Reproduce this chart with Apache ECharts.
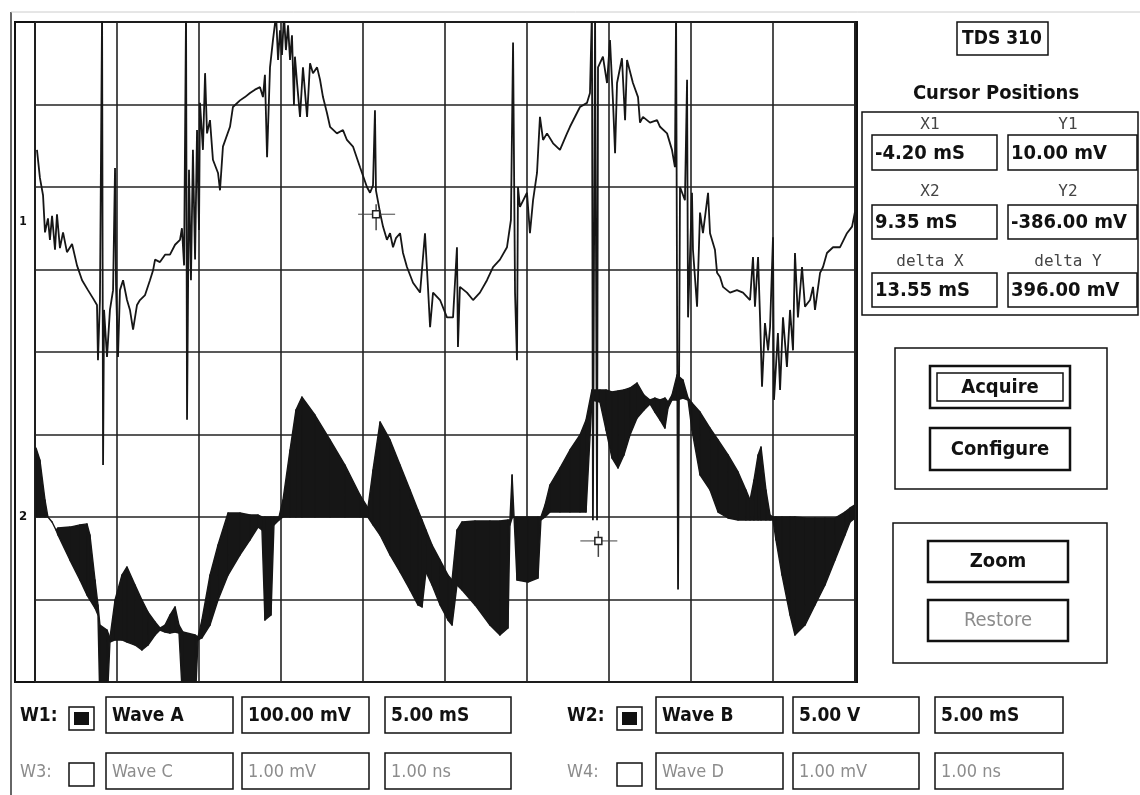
<!DOCTYPE html>
<html>
<head>
<meta charset="utf-8">
<title>TDS 310</title>
<script src="https://cdn.jsdelivr.net/npm/echarts@6/dist/echarts.min.js"></script>
<style>
html, body { margin: 0; padding: 0; background: #fff; }
#scope { width: 1140px; height: 795px; }
</style>
</head>
<body>
<div id="scope"></div>
<script>
// W1 (Wave A): time in mS, value in mV (100 mV/div)
var ch1Time = [-24.88,-24.70,-24.51,-24.39,-24.21,-24.09,-23.96,-23.78,-23.66,-23.48,
    -23.29,-23.05,-22.74,-22.44,-22.13,-21.77,-21.46,-21.22,-21.16,-21.04,
    -20.91,-20.85,-20.79,-20.61,-20.43,-20.24,-20.12,-20.06,-19.94,-19.82,
    -19.63,-19.39,-19.21,-19.02,-18.78,-18.60,-18.29,-17.99,-17.80,-17.68,
    -17.38,-17.07,-16.77,-16.46,-16.16,-16.04,-15.91,-15.79,-15.73,-15.61,
    -15.49,-15.37,-15.24,-15.12,-15.00,-14.94,-14.76,-14.63,-14.51,-14.33,
    -14.15,-13.84,-13.72,-13.54,-13.11,-12.93,-12.50,-12.20,-11.89,-11.59,
    -11.28,-11.10,-10.98,-10.85,-10.67,-10.49,-10.30,-10.18,-10.06,-9.94,
    -9.82,-9.70,-9.57,-9.45,-9.33,-9.21,-9.15,-9.02,-8.84,-8.66,
    -8.41,-8.23,-8.05,-7.80,-7.62,-7.44,-7.20,-7.01,-6.59,-6.22,
    -5.98,-5.61,-5.18,-4.76,-4.57,-4.39,-4.27,-4.21,-3.96,-3.78,
    -3.54,-3.35,-3.17,-2.99,-2.74,-2.56,-2.32,-1.95,-1.52,-1.22,
    -1.04,-0.91,-0.73,-0.30,0.12,0.49,0.73,0.79,0.91,1.34,
    1.71,2.13,2.56,2.93,3.35,3.78,4.02,4.15,4.27,4.39,
    4.45,4.57,5.00,5.18,5.37,5.61,5.79,5.98,6.22,6.59,
    7.01,7.44,7.62,8.23,8.66,8.84,8.96,9.02,9.15,9.27,
    9.33,9.63,9.88,10.06,10.24,10.37,10.49,10.79,10.98,11.10,
    11.46,11.77,11.89,12.07,12.50,12.93,13.11,13.54,13.84,14.02,
    14.09,14.21,14.33,14.63,14.76,14.82,15.06,15.12,15.37,15.55,
    15.73,16.04,16.16,16.46,16.59,16.77,16.95,17.38,17.80,18.17,
    18.60,18.78,18.90,19.09,19.21,19.33,19.51,19.70,19.82,20.00,
    20.06,20.30,20.43,20.61,20.85,21.04,21.22,21.34,21.52,21.77,
    21.95,22.26,22.44,22.56,22.87,23.05,23.29,23.66,24.09,24.51,24.82,25.00];
var ch1Volt = [88,54,33,-12,5,-21,8,-33,10,-31,
    -12,-36,-26,-52,-70,-82,-92,-100,-167,-94,
    258,-294,-106,-163,-106,-82,66,-76,-163,-82,
    -70,-94,-106,-130,-100,-94,-88,-70,-58,-45,
    -48,-39,-39,-27,-21,-7,-52,258,-239,64,
    -70,88,-45,112,-9,145,88,181,108,124,
    76,60,39,92,116,140,148,152,157,161,
    164,152,179,79,188,221,252,197,233,203,
    252,209,239,197,227,142,201,169,128,188,
    128,193,181,188,173,152,133,116,108,112,
    100,92,67,43,36,45,136,39,12,-5,
    -21,-13,-30,-19,-13,-37,-54,-73,-85,-13,
    -78,-127,-85,-94,-115,-115,-30,-151,-78,-85,
    -94,-85,-70,-54,-45,-30,3,218,-85,-167,
    43,19,36,-13,27,60,128,100,108,96,
    88,108,116,140,145,157,258,-361,258,-361,
    188,201,169,221,148,84,169,199,124,197,
    169,152,121,128,121,124,116,108,88,67,
    258,-445,43,27,173,-115,36,-33,-102,12,
    -13,36,-13,-33,-61,-66,-78,-85,-82,-85,
    -94,-42,-102,-42,-115,-199,-122,-155,-127,-18,
    -215,-134,-203,-115,-175,-106,-155,-37,-115,-54,
    -102,-94,-78,-106,-61,-54,-37,-30,-30,-13,-5,13];

// W2 (Wave B): time in mS, upper / lower envelope in V (5 V/div)
var ch2Time = [-24.94,-24.70,-24.39,-24.21,-23.96,-23.72,-23.60,-22.87,-22.26,-21.83,
    -21.65,-21.34,-21.16,-21.04,-20.61,-20.43,-20.12,-19.70,-19.39,-18.90,
    -18.48,-18.11,-17.68,-17.38,-17.07,-16.77,-16.46,-16.22,-15.98,-15.24,
    -15.06,-14.82,-14.33,-13.84,-13.23,-12.50,-11.89,-11.40,-11.16,-10.98,
    -10.61,-10.43,-10.12,-9.88,-9.45,-9.09,-8.72,-7.93,-7.01,-6.10,
    -5.18,-4.70,-4.39,-3.96,-3.35,-2.74,-2.13,-1.65,-1.40,-1.16,
    -0.79,-0.30,0.18,0.43,0.73,1.04,1.83,2.74,3.35,3.84,
    3.96,4.09,4.21,4.39,5.06,5.67,5.85,6.10,6.40,7.01,
    7.62,8.23,8.60,8.96,9.45,9.82,10.18,10.55,10.91,11.28,
    11.71,12.13,12.50,12.80,13.11,13.41,13.60,13.84,14.15,14.51,
    14.82,15.06,15.55,16.16,16.65,17.26,17.87,18.35,18.60,18.84,
    19.09,19.27,19.57,19.82,20.00,20.18,20.55,21.04,21.34,21.95,
    22.56,23.17,23.78,24.39,24.70,25.00];
var ch2Upper = [4.18,3.45,1.03,0,-0.30,-0.79,-0.67,-0.61,-0.48,-0.42,
    -1.09,-3.82,-5.33,-6.55,-6.85,-7.33,-5.03,-3.52,-3.03,-4.12,
    -5.03,-5.76,-6.36,-6.73,-6.55,-5.94,-5.45,-6.55,-6.97,-7.15,
    -7.27,-6.24,-3.52,-1.70,0.24,0.24,0.12,0.12,0,0,
    0,0,0,1.03,4.06,6.48,7.27,6.18,4.67,3.15,
    1.33,0.55,2.85,5.76,4.67,3.15,1.64,0.42,-0.18,-0.79,
    -1.70,-2.61,-3.52,-3.82,-0.79,-0.30,-0.24,-0.24,-0.24,-0.18,
    -0.18,2.55,0,0,0,0,0,0.73,1.94,2.97,
    4.06,4.97,5.88,7.70,7.70,7.70,7.58,7.64,7.70,7.82,
    8.12,7.39,7.09,7.21,7.09,7.21,6.97,7.39,8.61,8.30,
    7.21,6.91,6.36,5.39,4.67,3.76,2.73,1.64,1.03,2.24,
    3.76,4.24,1.64,0.12,0,0,0,0,0,-0.06,
    -0.06,-0.06,-0.06,0.30,0.55,0.73];
var ch2Lower = [0,0,0,0,-0.30,-0.79,-1.09,-2.61,-3.82,-4.73,
    -5.03,-5.52,-5.94,-11.5,-11.5,-7.58,-7.45,-7.45,-7.58,-7.76,
    -8.06,-7.76,-7.15,-6.85,-6.97,-7.03,-6.97,-7.03,-11.5,-11.5,
    -7.45,-7.33,-6.55,-5.03,-3.52,-2.30,-1.39,-0.61,-0.79,-6.24,
    -5.94,-0.48,-0.18,0,0,0,0,0,0,0,
    0,0,-0.48,-1.09,-2.30,-3.33,-4.42,-5.33,-5.45,-3.33,
    -4.12,-5.33,-6.24,-6.55,-4.12,-4.42,-5.33,-6.55,-7.15,-6.73,
    -0.48,-0.06,0,-3.82,-3.94,-3.70,-0.18,0,0.30,0.30,
    0.30,0.30,0.30,7.09,6.97,5.27,3.58,2.97,3.76,4.97,
    6.00,6.48,6.85,6.36,5.88,5.39,6.61,7.09,7.09,7.21,
    7.09,5.27,2.55,1.64,0.30,-0.06,-0.18,-0.18,-0.18,-0.18,
    -0.18,-0.18,-0.18,-0.18,-0.18,-1.39,-3.52,-5.94,-7.15,-6.55,
    -5.33,-4.12,-2.61,-1.09,-0.30,-0.06];

// cursors (on W1): mS / mV
var cursorX = [-4.20, 9.35];
var cursorY = [10.00, -386.00];

// channel settings row
var chanNames = ['W1:', 'W2:', 'W3:', 'W4:'];
var waveNames = ['Wave A', 'Wave B', 'Wave C', 'Wave D'];
var voltScales = ['100.00 mV', '5.00 V', '1.00 mV', '1.00 mV'];
var timeScales = ['5.00 mS', '5.00 mS', '1.00 ns', '1.00 ns'];
var chanOn = [true, true, false, false];

var uiFamily = '"DejaVu Sans Condensed", "Liberation Sans Narrow", "Arial Narrow", sans-serif';
var monoFamily = '"DejaVu Sans Mono", "Liberation Mono", monospace';

function pairs(xs, ys) {
    return xs.map(function (x, i) { return [x, ys[i]]; });
}

function box(x, y, w, h, lw, color) {
    return {
        type: 'rect', silent: true,
        shape: { x: x, y: y, width: w, height: h },
        style: { fill: 'none', stroke: color || '#111', lineWidth: lw || 1.5 }
    };
}
function filled(x, y, w, h) {
    return {
        type: 'rect', silent: true,
        shape: { x: x, y: y, width: w, height: h },
        style: { fill: '#111' }
    };
}
function line(x1, y1, x2, y2, lw, color) {
    return {
        type: 'line', silent: true,
        shape: { x1: x1, y1: y1, x2: x2, y2: y2 },
        style: { stroke: color || '#111', lineWidth: lw || 1.5 }
    };
}
function label(txt, x, y, font, align, color) {
    return {
        type: 'text', silent: true, x: x, y: y,
        style: {
            text: txt, font: font, fill: color || '#111',
            align: align || 'left', verticalAlign: 'middle',
            textAlign: align || 'left', textVerticalAlign: 'middle'
        }
    };
}

var bold19 = 'bold 19px ' + uiFamily;
var bold20 = 'bold 20px ' + uiFamily;
var plain18 = '18px ' + uiFamily;
var plain20 = '20px ' + uiFamily;
var mono16 = '16px ' + monoFamily;

var panel = [];
// window + scope frame
panel.push(line(11, 12, 11, 795, 1.5, '#333'));
panel.push(line(11, 12, 1140, 12, 1, '#ccc'));
panel.push(box(15, 22, 842, 660, 2));
panel.push(label('1', 23, 222, 'bold 12px ' + uiFamily, 'center'));
panel.push(label('2', 23, 517, 'bold 13px ' + uiFamily, 'center'));

// title box
panel.push(box(957, 22, 91, 33, 1.5));
panel.push(label('TDS 310', 1002, 39, bold19, 'center'));

// cursor readouts
panel.push(label('Cursor Positions', 996, 94, bold20, 'center'));
panel.push(box(862, 112, 276, 203, 1.5));
var dX = (cursorX[1] - cursorX[0]).toFixed(2) + ' mS';
var dY = Math.abs(cursorY[1] - cursorY[0]).toFixed(2) + ' mV';
var readRows = [
    ['X1', 'Y1', cursorX[0].toFixed(2) + ' mS', cursorY[0].toFixed(2) + ' mV', 125, 135, 35],
    ['X2', 'Y2', cursorX[1].toFixed(2) + ' mS', cursorY[1].toFixed(2) + ' mV', 192, 205, 34],
    ['delta X', 'delta Y', dX, dY, 262, 273, 34]
];
readRows.forEach(function (r) {
    panel.push(label(r[0], 930, r[4], mono16, 'center', '#444'));
    panel.push(label(r[1], 1068, r[4], mono16, 'center', '#444'));
    panel.push(box(872, r[5], 125, r[6], 1.5));
    panel.push(box(1008, r[5], 129, r[6], 1.5));
    panel.push(label(r[2], 875, r[5] + r[6] / 2 + 1, bold20, 'left'));
    panel.push(label(r[3], 1011, r[5] + r[6] / 2 + 1, bold20, 'left'));
});

// buttons
panel.push(box(895, 348, 212, 141, 1.5));
panel.push(box(930, 366, 140, 42, 2.5));
panel.push(box(937, 373, 126, 28, 1.5));
panel.push(label('Acquire', 1000, 388, bold20, 'center'));
panel.push(box(930, 428, 140, 42, 2.5));
panel.push(label('Configure', 1000, 450, bold20, 'center'));
panel.push(box(893, 523, 214, 140, 1.5));
panel.push(box(928, 541, 140, 41, 2.5));
panel.push(label('Zoom', 998, 562, bold20, 'center'));
panel.push(box(928, 600, 140, 41, 2.5));
panel.push(label('Restore', 998, 621, plain20, 'center', '#8c8c8c'));

// channel rows
var colX = [[20, 69, 106, 242, 385], [567, 617, 656, 793, 935]];
var colW = [[127, 127, 126], [127, 126, 128]];
var rowY = [697, 753];
chanNames.forEach(function (name, i) {
    var c = colX[i % 2], w = colW[i % 2], y = rowY[Math.floor(i / 2)];
    var on = chanOn[i];
    var col = on ? '#111' : '#8c8c8c';
    var f = on ? bold19 : plain18;
    panel.push(label(name, c[0], y + 19, f, 'left', col));
    panel.push(box(c[1], y + 10, 25, 23, 1.5));
    if (on) panel.push(filled(c[1] + 5, y + 15, 15, 13));
    [waveNames[i], voltScales[i], timeScales[i]].forEach(function (t, k) {
        panel.push(box(c[2 + k], y, w[k], 36, 1.5));
        panel.push(label(t, c[2 + k] + 6, y + 19, f, 'left', col));
    });
});

var myChart = echarts.init(document.getElementById('scope'));

// W2 band: one quad per step between consecutive samples
var bandData = [];
for (var i = 0; i < ch2Time.length - 1; i++) {
    bandData.push([ch2Time[i], ch2Upper[i], ch2Lower[i], ch2Time[i + 1], ch2Upper[i + 1], ch2Lower[i + 1]]);
}

var option = {
    animation: false,
    backgroundColor: '#fff',
    grid: {
        left: 35, top: 22, width: 820, height: 660,
        show: true, borderColor: '#111', borderWidth: 2
    },
    xAxis: {
        type: 'value', min: -25, max: 25, interval: 5,
        axisLine: { show: false }, axisTick: { show: false }, axisLabel: { show: false },
        splitLine: { show: true, lineStyle: { color: '#222', width: 1.6 } }
    },
    yAxis: [
        {   // grid divisions
            type: 'value', min: 0, max: 8, interval: 1,
            axisLine: { show: false }, axisTick: { show: false }, axisLabel: { show: false },
            splitLine: { show: true, lineStyle: { color: '#222', width: 1.6 } }
        },
        { type: 'value', min: -557, max: 243, show: false, splitLine: { show: false } },
        { type: 'value', min: -10, max: 30, show: false, splitLine: { show: false } }
    ],
    series: [
        {
            name: 'Wave B', type: 'custom', yAxisIndex: 2,
            data: bandData, clip: true, z: 3,
            encode: { x: [0, 3], y: [1, 2, 4, 5] },
            renderItem: function (params, api) {
                var a = api.coord([api.value(0), api.value(1)]);
                var b = api.coord([api.value(3), api.value(4)]);
                var c = api.coord([api.value(3), api.value(5)]);
                var d = api.coord([api.value(0), api.value(2)]);
                return {
                    type: 'polygon',
                    shape: { points: [a, b, c, d] },
                    style: { fill: '#161616', stroke: '#161616', lineWidth: 1.4, lineJoin: 'round' }
                };
            }
        },
        {
            name: 'Wave A', type: 'line', yAxisIndex: 1,
            data: pairs(ch1Time, ch1Volt),
            symbol: 'none', lineStyle: { color: '#161616', width: 1.8 },
            z: 4
        },
        {
            name: 'cursors', type: 'custom', yAxisIndex: 1,
            data: pairs(cursorX, cursorY),
            z: 6,
            renderItem: function (params, api) {
                var p = api.coord([api.value(0), api.value(1)]);
                return {
                    type: 'group',
                    children: [
                        { type: 'line', shape: { x1: p[0] - 18, y1: p[1], x2: p[0] + 19, y2: p[1] },
                          style: { stroke: '#444', lineWidth: 1 } },
                        { type: 'line', shape: { x1: p[0], y1: p[1] - 10, x2: p[0], y2: p[1] + 16 },
                          style: { stroke: '#444', lineWidth: 1.5 } },
                        { type: 'rect', shape: { x: p[0] - 3.5, y: p[1] - 3.5, width: 7, height: 7 },
                          style: { fill: '#fff', stroke: '#222', lineWidth: 1.5 } }
                    ]
                };
            }
        }
    ],
    graphic: { elements: panel }
};
myChart.setOption(option);
</script>
</body>
</html>
